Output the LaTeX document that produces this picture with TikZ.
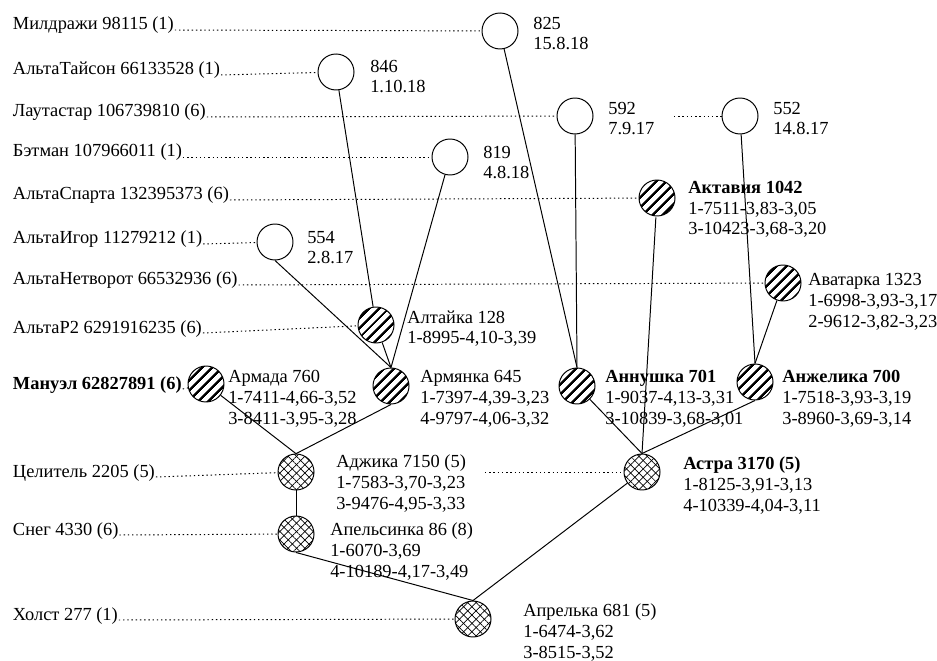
\documentclass[tikz,border=0pt]{standalone}
\usepackage{fontspec}
\setmainfont{Liberation Serif}
\usetikzlibrary{patterns,patterns.meta}

\tikzset{
  open/.style={draw, circle, minimum size=25.6pt, inner sep=0pt, line width=0.7pt},
  striped/.style={open, pattern={Lines[angle=45,distance=5.4pt,line width=2pt]}},
  hatched/.style={open, pattern={Lines[angle=45,distance=4.2pt,line width=0.5pt]},
    postaction={pattern={Lines[angle=-45,distance=4.2pt,line width=0.5pt]}}},
  row/.style={anchor=base west, inner sep=0.5pt},
  info/.style={anchor=base west, align=left, inner sep=0pt},
  lead/.style={draw, line width=0.7pt, dash pattern=on 1pt off 2pt},
  link/.style={draw, line width=0.7pt}
}

\begin{document}
\begin{tikzpicture}[x=0.025cm, y=-0.025cm, font=\fontsize{13.1}{14.9}\selectfont]
\useasboundingbox (0,0) rectangle (937,661);
% circles
\node[open] (1) at (500,31) {};
\node[open] (2) at (336,72) {};
\node[open] (3) at (575,116) {};
\node[open] (4) at (740,116) {};
\node[open] (5) at (450,157) {};
\node[striped] (6) at (657,198) {};
\node[open] (7) at (275,242) {};
\node[striped] (8) at (783,283) {};
\node[striped] (9) at (376,325) {};
\node[striped] (10) at (206,384) {};
\node[striped] (11) at (391,386) {};
\node[striped] (12) at (577,386) {};
\node[striped] (13) at (755,382) {};
\node[hatched] (14) at (296,472) {};
\node[hatched] (15) at (642,472) {};
\node[hatched] (16) at (296,534) {};
\node[hatched] (17) at (473,619) {};
% texts beside the circles (placed at the baseline of their last line)
\node[info] (t1) at (533,50) {825\\15.8.18};
\node[info] (t2) at (370,93) {846\\1.10.18};
\node[info] (t3) at (608,135) {592\\7.9.17};
\node[info] (t4) at (773,135) {552\\14.8.17};
\node[info] (t5) at (483,179) {819\\4.8.18};
\node[info] (t6) at (688,235) {\textbf{Актавия 1042}\\1-7511-3,83-3,05\\3-10423-3,68-3,20};
\node[info] (t7) at (307,264) {554\\2.8.17};
\node[info] (t8) at (808,327) {Аватарка 1323\\1-6998-3,93-3,17\\2-9612-3,82-3,23};
\node[info] (t9) at (407,344) {Алтайка 128\\1-8995-4,10-3,39};
\node[info] (t10) at (228,424) {Армада 760\\1-7411-4,66-3,52\\3-8411-3,95-3,28};
\node[info] (t11) at (420,424) {Армянка 645\\1-7397-4,39-3,23\\4-9797-4,06-3,32};
\node[info] (t12) at (605,424) {\textbf{Аннушка 701}\\1-9037-4,13-3,31\\3-10839-3,68-3,01};
\node[info] (t13) at (782,424) {\textbf{Анжелика 700}\\1-7518-3,93-3,19\\3-8960-3,69-3,14};
\node[info] (t14) at (336,509) {Аджика 7150 (5)\\1-7583-3,70-3,23\\3-9476-4,95-3,33};
\node[info] (t15) at (683,511) {\textbf{Астра 3170 (5)}\\1-8125-3,91-3,13\\4-10339-4,04-3,11};
\node[info] (t16) at (330,577) {Апельсинка 86 (8)\\1-6070-3,69\\4-10189-4,17-3,49};
\node[info] (t17) at (523,658) {Апрелька 681 (5)\\1-6474-3,62\\3-8515-3,52};
% names on the left
\node[row] (r1) at (12,30) {Милдражи 98115 (1)};
\node[row] (r2) at (12,75) {АльтаТайсон 66133528 (1)};
\node[row] (r3) at (12,117) {Лаутастар 106739810 (6)};
\node[row] (r4) at (12,157) {Бэтман 107966011 (1)};
\node[row] (r5) at (12,200) {АльтаСпарта 132395373 (6)};
\node[row] (r6) at (12,244) {АльтаИгор 11279212 (1)};
\node[row] (r7) at (12,285) {АльтаНетворот 66532936 (6)};
\node[row] (r8) at (12,333) {АльтаР2 6291916235 (6)};
\node[row] (r9) at (12,389) {\textbf{Мануэл 62827891 (6)}};
\node[row] (r10) at (12,477) {Целитель 2205 (5)};
\node[row] (r11) at (12,535) {Снег 4330 (6)};
\node[row] (r12) at (12,620) {Холст 277 (1)};
\coordinate (c4) at (674,116);
\coordinate (c15) at (485,472);
% dotted leads
\path[lead] (r1.base east) -- (1);
\path[lead] (r2.base east) -- (2);
\path[lead] (r3.base east) -- (3);
\path[lead] (c4) -- (4);
\path[lead] (r4.base east) -- (5);
\path[lead] (r5.base east) -- (6);
\path[lead] (r6.base east) -- (7);
\path[lead] (r7.base east) -- (8);
\path[lead] (r8.base east) -- (9);
\path[lead] (r9.base east) -- (10);
\path[lead] (r10.base east) -- (14);
\path[lead] (c15) -- (15);
\path[lead] (r11.base east) -- (16);
\path[lead] (r12.base east) -- (17);
% links
\path[link] (2) -- (9);
\path[link] (5) -- (11.north);
\path[link] (7.south) -- (11.north);
\path[link] (9) -- (11.north);
\path[link] (10) -- (14.north);
\path[link] (11.south) -- (14.north);
\path[link] (14) -- (16);
\path[link] (16.south) -- (17.north);
\path[link] (15) -- (17.north);
\path[link] (1) -- (12.north);
\path[link] (3) -- (12.north);
\path[link] (6) -- (15.north);
\path[link] (12) -- (15.north);
\path[link] (13.south) -- (15.north);
\path[link] (4) -- (13.north);
\path[link] (8) -- (13.north);
\end{tikzpicture}
\end{document}
